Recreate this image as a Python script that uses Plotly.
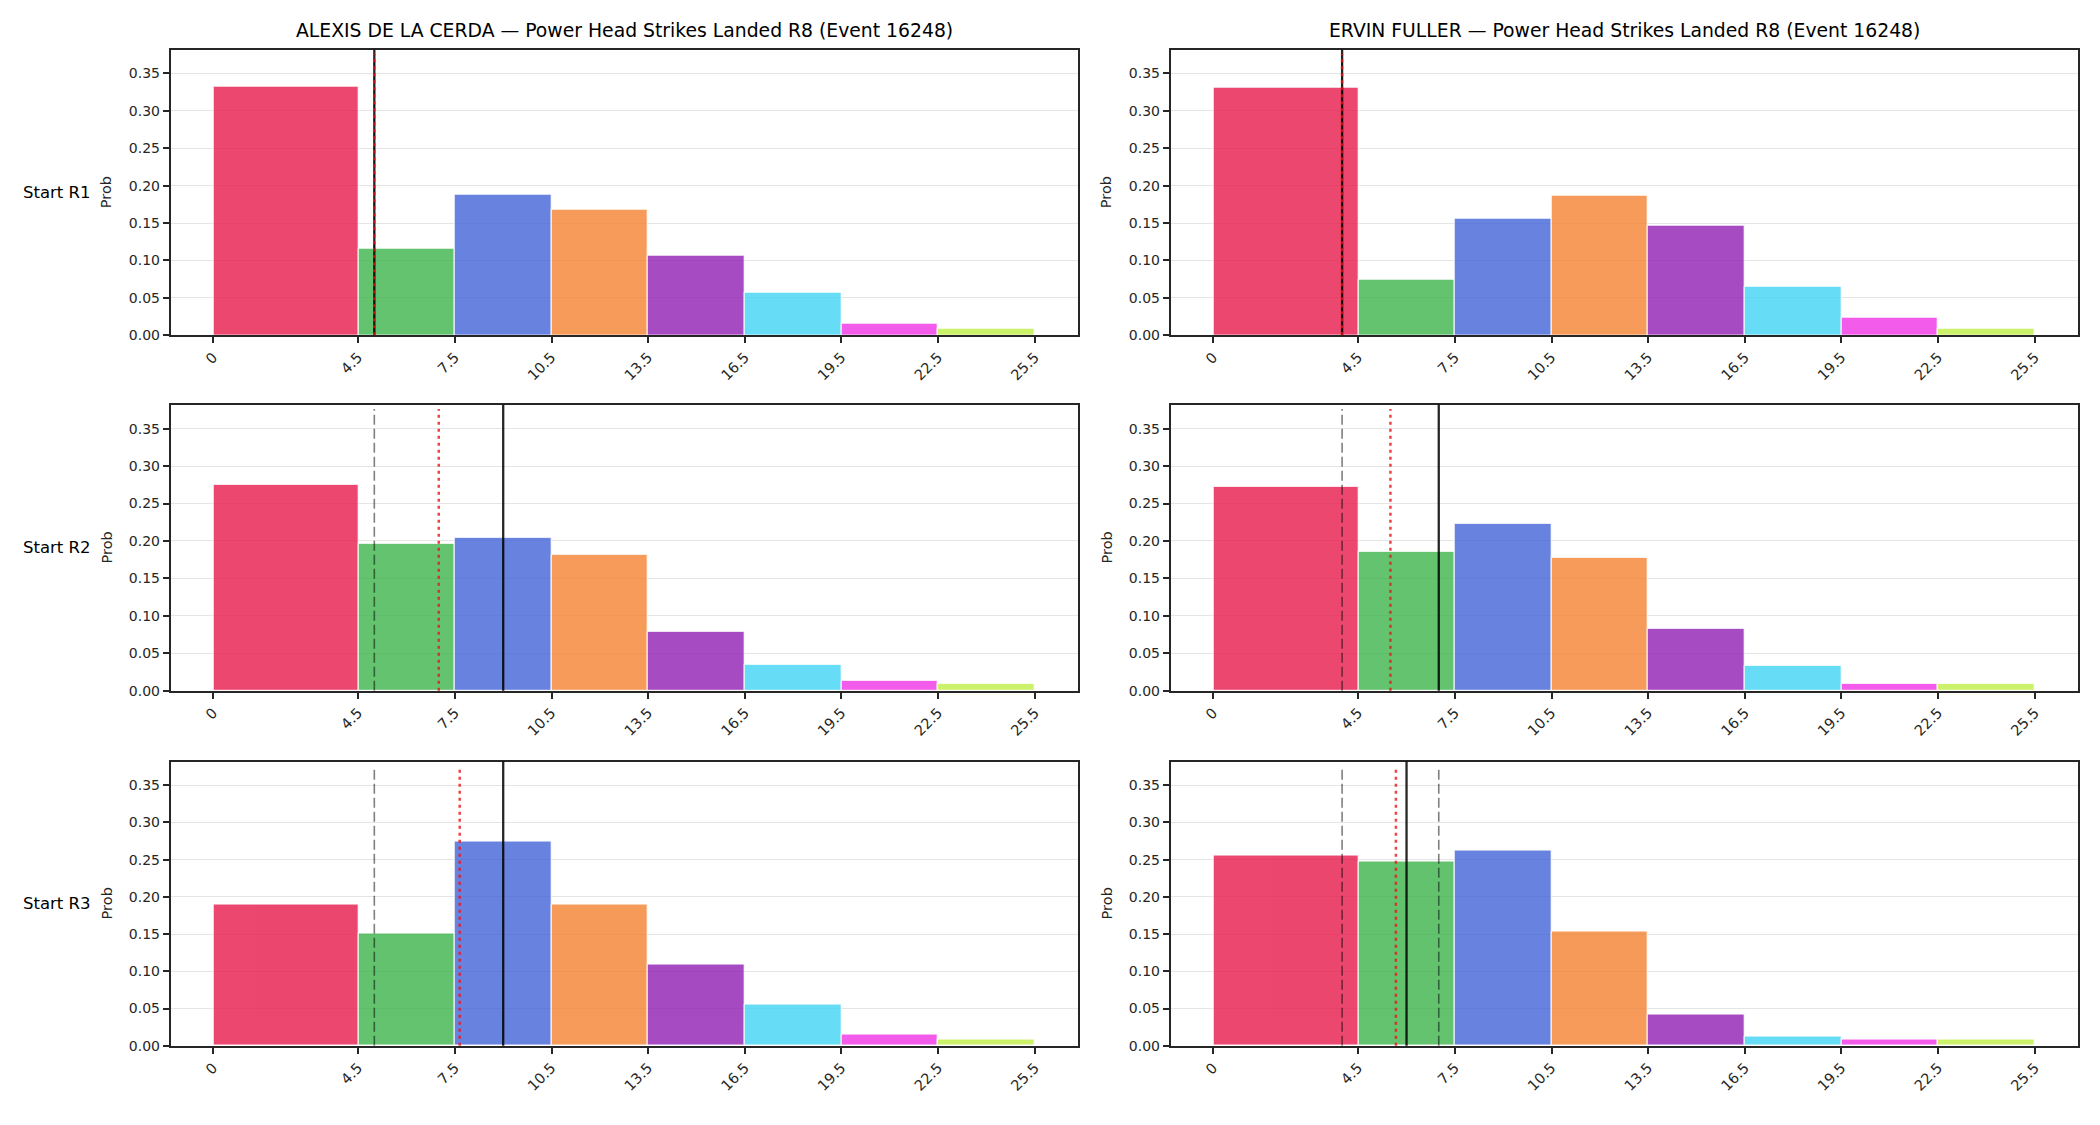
import plotly.graph_objects as go
from plotly.subplots import make_subplots

# ---------------- data ----------------
bin_edges = [0, 4.5, 7.5, 10.5, 13.5, 16.5, 19.5, 22.5, 25.5]
tick_labels = ["0", "4.5", "7.5", "10.5", "13.5", "16.5", "19.5", "22.5", "25.5"]
fighters = ["ALEXIS DE LA CERDA", "ERVIN FULLER"]
row_labels = ["Start R1", "Start R2", "Start R3"]
bin_colors = ["#e6194b", "#3cb44b", "#4363d8", "#f58231",
              "#911eb4", "#42d4f4", "#f032e6", "#bfef45"]

adlc_r1 = [0.332, 0.116, 0.188, 0.168, 0.107, 0.057, 0.016, 0.009]
adlc_r2 = [0.275, 0.196, 0.204, 0.181, 0.079, 0.035, 0.013, 0.009]
adlc_r3 = [0.190, 0.151, 0.274, 0.190, 0.109, 0.055, 0.015, 0.008]
fuller_r1 = [0.331, 0.074, 0.156, 0.187, 0.146, 0.065, 0.023, 0.009]
fuller_r2 = [0.272, 0.186, 0.223, 0.178, 0.083, 0.033, 0.009, 0.009]
fuller_r3 = [0.255, 0.248, 0.262, 0.154, 0.042, 0.012, 0.008, 0.008]

# reference lines: dashed (betting lines), dotted red, solid black
adlc_dashed = [[5.0], [5.0], [5.0]]
adlc_dotted = [5.0, 7.0, 7.65]
adlc_solid = [5.0, 9.0, 9.0]
fuller_dashed = [[4.0], [4.0], [4.0, 7.0]]
fuller_dotted = [4.0, 5.5, 5.67]
fuller_solid = [4.0, 7.0, 6.0]

probs = [[adlc_r1, fuller_r1], [adlc_r2, fuller_r2], [adlc_r3, fuller_r3]]
dashed = [adlc_dashed, fuller_dashed]
dotted = [adlc_dotted, fuller_dotted]
solid = [adlc_solid, fuller_solid]

# ---------------- figure ----------------
W, H = 2100, 1125
FONT = "DejaVu Sans"
INK = "#262626"

fig = make_subplots(rows=3, cols=2)

centers = [(a + b) / 2 for a, b in zip(bin_edges[:-1], bin_edges[1:])]
widths = [b - a for a, b in zip(bin_edges[:-1], bin_edges[1:])]

x_dom = [(170.7 / W, 1078.3 / W), (1170.7 / W, 2078.3 / W)]
y_pix = [(50, 337.7), (407.7, 695.7), (767, 1053.3)]
y_dom = [(1 - b / H, 1 - t / H) for t, b in y_pix]

all_max = max(max(p) for row in probs for p in row)
ymax = all_max * 1.15

shapes = []
annotations = []
for r in range(3):
    for c in range(2):
        idx = r * 2 + c + 1
        sfx = "" if idx == 1 else str(idx)
        fig.add_trace(go.Bar(
            x=centers, y=probs[r][c], width=widths,
            marker=dict(color=bin_colors, line=dict(color="white", width=1)),
            opacity=0.8, showlegend=False,
        ), row=r + 1, col=c + 1)
        fig.update_xaxes(
            domain=list(x_dom[c]), range=[-1.32, 26.85],
            tickmode="array", tickvals=bin_edges, ticktext=tick_labels,
            tickangle=-45, ticks="outside", ticklen=6, tickwidth=1.6,
            tickcolor=INK, showline=True, linecolor=INK, linewidth=1.8,
            mirror=True, showgrid=False, zeroline=False,
            tickfont=dict(family=FONT, size=14.5, color=INK),
            row=r + 1, col=c + 1)
        fig.update_yaxes(
            domain=list(y_dom[r]), range=[0, ymax],
            tickmode="array", tickvals=[0, 0.05, 0.1, 0.15, 0.2, 0.25, 0.3, 0.35],
            tickformat=".2f", ticks="outside", ticklen=6, tickwidth=1.6,
            tickcolor=INK, showline=True, linecolor=INK, linewidth=1.8,
            mirror=True, showgrid=True, gridcolor="#e5e5e5", gridwidth=1,
            zeroline=False,
            tickfont=dict(family=FONT, size=14, color=INK),
            row=r + 1, col=c + 1)
        xr, yr = "x" + sfx, "y" + sfx + " domain"
        for xv in dashed[c][r]:
            shapes.append(dict(type="line", xref=xr, yref=yr, x0=xv, x1=xv, y0=0, y1=0.985,
                               line=dict(color="rgba(0,0,0,0.5)", width=1.6, dash="10px,4px")))
        shapes.append(dict(type="line", xref=xr, yref=yr, x0=solid[c][r], x1=solid[c][r], y0=0, y1=1,
                           line=dict(color="rgba(0,0,0,0.85)", width=2.3)))
        shapes.append(dict(type="line", xref=xr, yref=yr, x0=dotted[c][r], x1=dotted[c][r], y0=0, y1=0.985,
                           line=dict(color="rgba(235,20,20,0.8)", width=2.5, dash="3px,4px")))
        # y label
        annotations.append(dict(
            text="Prob", textangle=-90, xref="paper", yref="paper",
            x=(x_dom[c][0] * W - 64) / W, y=(y_dom[r][0] + y_dom[r][1]) / 2,
            xanchor="center", yanchor="middle", showarrow=False,
            font=dict(family=FONT, size=14.5, color=INK)))

for r in range(3):
    annotations.append(dict(
        text=row_labels[r], xref="paper", yref="paper",
        x=93 / W, y=(y_dom[r][0] + y_dom[r][1]) / 2,
        xanchor="right", yanchor="middle", showarrow=False,
        font=dict(family=FONT, size=16.5, color="black")))

for c in range(2):
    annotations.append(dict(
        text=f"{fighters[c]} — Power Head Strikes Landed R8 (Event 16248)",
        xref="paper", yref="paper",
        x=(x_dom[c][0] + x_dom[c][1]) / 2, y=1 - 43.5 / H,
        xanchor="center", yanchor="bottom", showarrow=False,
        font=dict(family=FONT, size=18.8, color="black")))

fig.update_layout(
    width=W, height=H, margin=dict(l=0, r=0, t=0, b=0),
    paper_bgcolor="white", plot_bgcolor="white",
    bargap=0, shapes=shapes, annotations=annotations,
    font=dict(family=FONT, color=INK),
)

fig.write_html("out.html")
